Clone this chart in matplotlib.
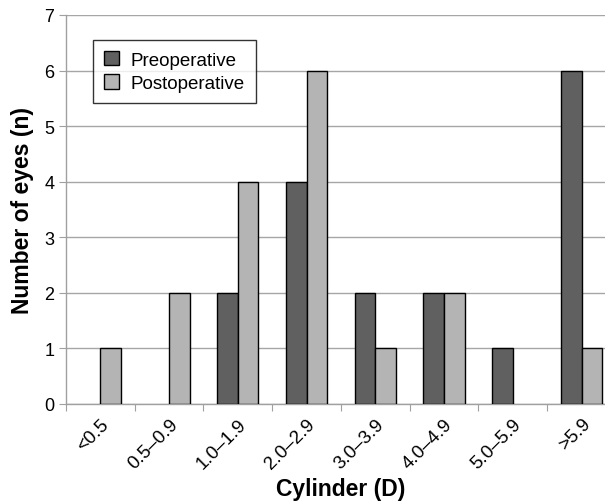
import numpy as np
import matplotlib
matplotlib.use("Agg")
import matplotlib.pyplot as plt
from matplotlib.patches import Patch

categories = ["<0.5", "0.5\u20130.9", "1.0\u20131.9", "2.0\u20132.9",
              "3.0\u20133.9", "4.0\u20134.9", "5.0\u20135.9", ">5.9"]
preoperative = [0, 0, 2, 4, 2, 2, 1, 6]
postoperative = [1, 2, 4, 6, 1, 2, 0, 1]

PRE_COLOR = "#606060"
POST_COLOR = "#b4b4b4"

plt.rcParams['font.family'] = ['Liberation Sans', 'DejaVu Sans']

fig = plt.figure(figsize=(6.05, 5.02), dpi=100)
ax = fig.add_axes([66 / 605, 97 / 502, 550 / 605, 389 / 502])

x = np.arange(len(categories))
w = 0.3
b1 = ax.bar(x - w / 2, preoperative, w, color=PRE_COLOR, edgecolor="black",
            linewidth=1, zorder=3)
b2 = ax.bar(x + w / 2, postoperative, w, color=POST_COLOR, edgecolor="black",
            linewidth=1, zorder=3)
# no outline for empty bars
for bars, vals in [(b1, preoperative), (b2, postoperative)]:
    for p, v in zip(bars, vals):
        if v == 0:
            p.set_visible(False)

ax.set_xlim(-0.5, len(categories) - 0.5)
ax.set_ylim(0, 7)
ax.set_yticks(range(8))
ax.yaxis.grid(True, color="#a6a6a6", linewidth=1, zorder=0)

# ticks at category boundaries, labels centred
ax.set_xticks(x - 0.5)
ax.set_xticklabels([])
ax.set_xticks(x, minor=True)
ax.set_xticklabels(categories, minor=True, rotation=45, ha="right",
                   rotation_mode="anchor", fontsize=13.5)
ax.tick_params(axis="x", which="minor", length=0, pad=8)
ax.tick_params(axis="x", which="major", length=5, color="#a0a0a0")
ax.tick_params(axis="y", length=5, color="#a0a0a0", labelsize=13)

for s in ["top", "right"]:
    ax.spines[s].set_visible(False)
for s in ["left", "bottom"]:
    ax.spines[s].set_color("#a0a0a0")
    ax.spines[s].set_linewidth(1)

ax.set_xlabel("Cylinder (D)", fontsize=16.5, fontweight="bold", labelpad=4)
ax.set_ylabel("Number of eyes (n)", fontsize=16.5, fontweight="bold", labelpad=7)

handles = [Patch(facecolor=PRE_COLOR, edgecolor="black", linewidth=1),
           Patch(facecolor=POST_COLOR, edgecolor="black", linewidth=1)]
leg = ax.legend(handles, ["Preoperative", "Postoperative"], loc="upper left",
                bbox_to_anchor=(0.049, 0.936), borderaxespad=0, fontsize=13.5,
                frameon=True, fancybox=False, edgecolor="black",
                handlelength=0.8, handleheight=0.8, borderpad=0.6,
                labelspacing=0.3, handletextpad=0.6)
leg.get_frame().set_linewidth(1)

fig.savefig("out.png", dpi=100)
